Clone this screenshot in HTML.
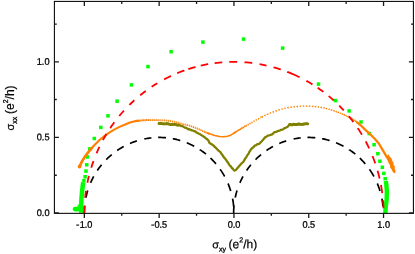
<!DOCTYPE html>
<html><head><meta charset="utf-8"><title>chart</title>
<style>
html,body{margin:0;padding:0;background:#fff;}
body{width:415px;height:254px;position:relative;overflow:hidden;font-family:"Liberation Sans",sans-serif;}
svg text{font-family:"Liberation Sans",sans-serif;fill:#000;stroke:#000;stroke-width:0.2px;}
svg{will-change:transform;}
</style></head><body>
<svg width="415" height="254" viewBox="0 0 415 254" style="position:absolute;left:0;top:0">
<defs><clipPath id="cp"><rect x="54.40" y="1.40" width="359.00" height="212.55"/></clipPath></defs>
<g clip-path="url(#cp)">
<path d="M84.35 213.00 L84.35 213.00 L84.36 211.81 L84.39 210.63 L84.43 209.44 L84.50 208.25 L84.58 207.07 L84.68 205.89 L84.70 205.71 M85.94 197.51 L85.94 197.50 L86.19 196.34 L86.46 195.19 L86.75 194.03 L87.05 192.89 L87.37 191.75 L87.71 190.61 L87.76 190.44 M90.57 182.85 L90.58 182.83 L91.05 181.74 L91.55 180.66 L92.06 179.60 L92.59 178.53 L93.13 177.48 L93.69 176.44 L93.72 176.38 M97.31 170.49 L97.32 170.48 L97.99 169.50 L98.68 168.54 L99.38 167.58 L100.09 166.64 L100.82 165.71 L101.55 164.80 M106.24 159.60 L106.27 159.57 L107.11 158.74 L107.96 157.92 L108.82 157.11 L109.70 156.32 L110.58 155.54 L111.48 154.78 L111.77 154.54 M117.20 150.45 L117.22 150.44 L118.20 149.78 L119.19 149.14 L120.18 148.51 L121.19 147.90 L122.21 147.31 L123.24 146.73 L123.68 146.49 M129.98 143.43 L130.00 143.42 L131.09 142.97 L132.18 142.53 L133.28 142.11 L134.39 141.71 L135.50 141.33 L136.62 140.96 L136.91 140.87 M144.36 138.94 L144.41 138.93 L145.56 138.71 L146.72 138.50 L147.88 138.31 L149.04 138.14 L150.21 137.99 L151.38 137.86 L151.38 137.86 M158.16 137.46 L158.18 137.46 L159.36 137.45 L160.53 137.46 L161.71 137.49 L162.88 137.54 L164.05 137.61 L165.23 137.70 L166.05 137.77 M172.79 138.72 L172.79 138.72 L173.95 138.94 L175.10 139.19 L176.24 139.45 L177.39 139.73 L178.52 140.03 L179.66 140.34 L180.27 140.52 M186.78 142.79 L186.83 142.81 L187.92 143.26 L189.00 143.73 L190.07 144.21 L191.14 144.71 L192.20 145.22 L193.25 145.76 L194.21 146.26 M200.05 149.74 L200.05 149.75 L201.03 150.40 L202.00 151.08 L202.96 151.76 L203.91 152.47 L204.84 153.18 L205.77 153.92 L206.01 154.11 M210.51 158.08 L210.56 158.12 L211.40 158.94 L212.24 159.78 L213.06 160.63 L213.87 161.49 L214.66 162.36 L215.44 163.25 L216.00 163.90 M220.21 169.36 L220.24 169.40 L220.91 170.38 L221.57 171.36 L222.21 172.36 L222.83 173.36 L223.44 174.38 L224.03 175.41 L224.61 176.44 L224.64 176.49 M228.02 183.52 L228.03 183.53 L228.48 184.63 L228.91 185.73 L229.32 186.84 L229.72 187.96 L230.10 189.08 L230.47 190.21 L230.72 191.04 M232.58 198.62 L232.59 198.66 L232.81 199.83 L233.00 201.00 L233.18 202.18 L233.34 203.35 L233.48 204.53 L233.60 205.71 L233.66 206.34" fill="none" stroke="#000" stroke-width="1.70" stroke-linecap="butt"/>
<path d="M233.65 213.00 L233.65 213.00 L233.66 211.81 L233.69 210.63 L233.73 209.44 L233.80 208.25 L233.88 207.07 L233.98 205.89 L234.00 205.71 M235.24 197.51 L235.24 197.50 L235.49 196.34 L235.76 195.19 L236.05 194.03 L236.35 192.89 L236.67 191.75 L237.01 190.61 L237.06 190.44 M239.87 182.85 L239.88 182.83 L240.35 181.74 L240.85 180.66 L241.36 179.60 L241.89 178.53 L242.43 177.48 L242.99 176.44 L243.02 176.38 M246.61 170.49 L246.62 170.48 L247.29 169.50 L247.98 168.54 L248.68 167.58 L249.39 166.64 L250.12 165.71 L250.85 164.80 M255.54 159.60 L255.57 159.57 L256.41 158.74 L257.26 157.92 L258.12 157.11 L259.00 156.32 L259.88 155.54 L260.78 154.78 L261.07 154.54 M266.50 150.45 L266.52 150.44 L267.50 149.78 L268.49 149.14 L269.48 148.51 L270.49 147.90 L271.51 147.31 L272.54 146.73 L272.98 146.49 M279.28 143.43 L279.30 143.42 L280.39 142.97 L281.48 142.53 L282.58 142.11 L283.69 141.71 L284.80 141.33 L285.92 140.96 L286.21 140.87 M293.66 138.94 L293.71 138.93 L294.86 138.71 L296.02 138.50 L297.18 138.31 L298.34 138.14 L299.51 137.99 L300.68 137.86 L300.68 137.86 M307.46 137.46 L307.48 137.46 L308.66 137.45 L309.83 137.46 L311.01 137.49 L312.18 137.54 L313.35 137.61 L314.53 137.70 L315.35 137.77 M322.09 138.72 L322.09 138.72 L323.25 138.94 L324.40 139.19 L325.54 139.45 L326.69 139.73 L327.82 140.03 L328.96 140.34 L329.57 140.52 M336.08 142.79 L336.13 142.81 L337.22 143.26 L338.30 143.73 L339.37 144.21 L340.44 144.71 L341.50 145.22 L342.55 145.76 L343.51 146.26 M349.35 149.74 L349.35 149.75 L350.33 150.40 L351.30 151.08 L352.26 151.76 L353.21 152.47 L354.14 153.18 L355.07 153.92 L355.31 154.11 M359.81 158.08 L359.86 158.12 L360.70 158.94 L361.54 159.78 L362.36 160.63 L363.17 161.49 L363.96 162.36 L364.74 163.25 L365.30 163.90 M369.51 169.36 L369.54 169.40 L370.21 170.38 L370.87 171.36 L371.51 172.36 L372.13 173.36 L372.74 174.38 L373.33 175.41 L373.91 176.44 L373.94 176.49 M377.32 183.52 L377.33 183.53 L377.78 184.63 L378.21 185.73 L378.62 186.84 L379.02 187.96 L379.40 189.08 L379.77 190.21 L380.02 191.04 M381.88 198.62 L381.89 198.66 L382.11 199.83 L382.30 201.00 L382.48 202.18 L382.64 203.35 L382.78 204.53 L382.90 205.71 L382.96 206.34" fill="none" stroke="#000" stroke-width="1.70" stroke-linecap="butt"/>
<rect x="82.15" y="178.85" width="3.50" height="3.50" fill="#00ff00"/>
<rect x="83.35" y="174.95" width="3.50" height="3.50" fill="#00ff00"/>
<rect x="84.25" y="169.35" width="3.50" height="3.50" fill="#00ff00"/>
<rect x="84.95" y="163.05" width="3.50" height="3.50" fill="#00ff00"/>
<rect x="85.55" y="155.15" width="3.50" height="3.50" fill="#00ff00"/>
<rect x="88.05" y="147.15" width="3.50" height="3.50" fill="#00ff00"/>
<rect x="92.55" y="136.75" width="3.50" height="3.50" fill="#00ff00"/>
<rect x="99.05" y="125.65" width="3.50" height="3.50" fill="#00ff00"/>
<rect x="106.25" y="114.05" width="3.50" height="3.50" fill="#00ff00"/>
<rect x="115.35" y="99.45" width="3.50" height="3.50" fill="#00ff00"/>
<rect x="129.65" y="83.15" width="3.50" height="3.50" fill="#00ff00"/>
<rect x="146.25" y="64.85" width="3.50" height="3.50" fill="#00ff00"/>
<rect x="169.35" y="49.95" width="3.50" height="3.50" fill="#00ff00"/>
<rect x="201.15" y="40.35" width="3.50" height="3.50" fill="#00ff00"/>
<rect x="241.75" y="37.35" width="3.50" height="3.50" fill="#00ff00"/>
<rect x="280.85" y="46.35" width="3.50" height="3.50" fill="#00ff00"/>
<rect x="316.75" y="82.35" width="3.50" height="3.50" fill="#00ff00"/>
<rect x="333.85" y="98.85" width="3.50" height="3.50" fill="#00ff00"/>
<rect x="347.35" y="109.15" width="3.50" height="3.50" fill="#00ff00"/>
<rect x="359.25" y="120.25" width="3.50" height="3.50" fill="#00ff00"/>
<rect x="367.45" y="131.85" width="3.50" height="3.50" fill="#00ff00"/>
<rect x="372.35" y="142.95" width="3.50" height="3.50" fill="#00ff00"/>
<rect x="376.05" y="151.95" width="3.50" height="3.50" fill="#00ff00"/>
<rect x="378.15" y="159.45" width="3.50" height="3.50" fill="#00ff00"/>
<rect x="380.55" y="165.55" width="3.50" height="3.50" fill="#00ff00"/>
<rect x="382.05" y="171.65" width="3.50" height="3.50" fill="#00ff00"/>
<rect x="383.45" y="176.95" width="3.50" height="3.50" fill="#00ff00"/>
<path d="M83.3 182.3 L82.95 184 L82.05 191.7 L81.6 197 L81.3 201 L81.1 205.5 L81.2 209" fill="none" stroke="#00ff00" stroke-width="4.5" stroke-linecap="butt" stroke-linejoin="round"/>
<path d="M75.0 209.05 L81 209.05" fill="none" stroke="#00ff00" stroke-width="4.7" stroke-linecap="round"/>
<rect x="79" y="206.7" width="4.65" height="6.1" fill="#00ff00"/>
<path d="M76.8 206.8 L79.4 203.3 L79.4 206.8 z" fill="#00ff00"/>
<path d="M385.8 181 L386.3 184 L386.85 191.7 L386.65 199.6 L385.7 207.5 L385.3 213.4" fill="none" stroke="#00ff00" stroke-width="4.4" stroke-linejoin="round"/>
<path d="M158.00 123.00 L159.30 123.57 L160.60 123.41 L161.89 123.69 L163.19 123.98 L164.48 123.79 L165.78 123.89 L167.07 123.72 L168.36 123.99 L169.66 124.29 L170.95 124.50 L172.25 124.66 L173.55 124.45 L174.85 124.31 L176.14 124.60 L177.43 125.17 L178.73 124.81 L179.99 125.22 L181.20 126.04 L182.40 125.89 L183.58 126.85 L184.75 127.66 L185.92 127.73 L187.10 128.49 L188.30 129.24 L189.50 129.21 L190.71 129.93 L191.97 130.44 L193.22 130.73 L194.40 131.09 L195.50 131.60 L196.61 132.49 L197.71 133.09 L198.88 133.74 L200.06 134.20 L201.23 135.08 L202.35 135.68 L203.36 136.19 L204.36 137.19 L205.36 137.81 L206.38 138.75 L207.39 139.49 L208.40 140.52 L208.89 141.53 L209.37 142.79 L210.45 143.67 L211.57 144.12 L212.69 145.12 L213.64 145.49 L214.57 146.79 L215.51 147.47 L216.44 148.39 L217.36 149.45 L218.28 150.29 L219.19 151.13 L220.08 151.80 L220.91 152.86 L221.75 154.29 L222.56 155.17 L223.31 156.35 L224.07 157.59 L224.82 158.46 L225.58 159.08 L226.35 160.30 L227.12 161.55 L227.89 162.34 L228.67 163.90 L229.44 164.93 L230.23 165.90 L231.02 166.66 L231.82 167.95 L232.62 168.47 L233.43 169.61 L234.27 170.64 L235.43 170.25 L236.49 169.36 L237.34 168.13 L238.20 167.30 L239.05 166.31 L239.91 165.31 L240.77 164.25 L241.64 163.45 L242.50 162.50 L243.36 161.76 L244.08 160.69 L244.74 159.38 L245.41 158.22 L246.07 157.33 L246.75 156.29 L247.45 155.05 L248.16 154.05 L248.87 153.06 L249.56 151.33 L250.25 150.81 L250.94 149.29 L251.72 148.41 L252.71 147.79 L253.70 146.88 L254.68 145.64 L255.81 145.37 L256.98 144.38 L258.15 144.01 L259.31 143.76 L260.30 142.68 L261.15 141.82 L262.00 140.92 L262.85 140.01 L263.70 138.98 L264.72 137.64 L265.73 137.12 L266.76 136.35 L267.96 135.57 L269.16 135.42 L270.37 134.98 L271.57 134.64 L272.66 134.01 L273.75 132.73 L274.84 132.10 L276.07 131.97 L277.29 131.18 L278.52 130.82 L279.75 130.63 L280.94 129.82 L282.13 129.72 L283.32 129.25 L284.51 128.15 L285.61 127.83 L286.68 127.28 L287.76 126.66 L288.73 125.31 L289.69 124.37 L290.95 124.76 L292.25 124.79 L293.55 124.29 L294.85 124.45 L296.15 124.54 L297.45 124.52 L298.74 123.94 L300.04 124.23 L301.34 124.38 L302.64 124.26 L303.93 124.04 L305.22 123.83 L306.48 123.69 L307.75 123.85" fill="none" stroke="#808000" stroke-width="2.3" stroke-linejoin="round" stroke-linecap="butt"/>
<path d="M158.00 123.00 L159.30 123.57 L160.60 123.41 L161.89 123.69 L163.19 123.98 L164.48 123.79 L165.78 123.89 L167.07 123.72 L168.36 123.99 L169.66 124.29 L170.95 124.50 L172.25 124.66 L173.55 124.45 L174.85 124.31 L176.14 124.60 L177.43 125.17 L178.73 124.81 L179.99 125.22" fill="none" stroke="#808000" stroke-width="2.8" stroke-linejoin="round" stroke-linecap="butt"/>
<path d="M289.69 124.37 L290.95 124.76 L292.25 124.79 L293.55 124.29 L294.85 124.45 L296.15 124.54 L297.45 124.52 L298.74 123.94 L300.04 124.23 L301.34 124.38 L302.64 124.26 L303.93 124.04 L305.22 123.83 L306.48 123.69 L307.75 123.85" fill="none" stroke="#808000" stroke-width="2.9" stroke-linejoin="round" stroke-linecap="round"/>
<path d="M79.60 166.50 L81.80 161.70 L84.80 156.80 L87.70 152.90 L90.70 149.40 L94.50 145.00 L99.80 139.70 L104.70 135.80 L109.60 132.30 L114.60 129.40 L119.50 126.90 L124.60 124.70 L129.90 122.60 L134.80 121.30 L138.00 120.65" fill="none" stroke="#ff8000" stroke-width="2.1" stroke-linecap="round" stroke-linejoin="round"/>
<circle cx="79.6" cy="166.5" r="1.9" fill="#ff8000"/>
<path d="M79.60 166.50 L81.80 161.70 L84.80 156.80 L87.70 152.90 L90.70 149.40 L92.00 147.89" fill="none" stroke="#ff8000" stroke-width="2.5" stroke-linecap="round" stroke-linejoin="round"/>
<path d="M208.00 133.04 L209.70 133.80 L214.60 135.50 L219.60 136.50 L223.50 136.80 L227.40 136.30 L229.90 135.60 L234.90 132.70 L235.00 132.64" fill="none" stroke="#ff8000" stroke-width="1.55" stroke-linejoin="round"/>
<path d="M138.00 120.65 L139.70 120.30 L144.60 119.90 L149.60 119.70 L150.00 119.70" fill="none" stroke="#ff8000" stroke-width="0.8" stroke-linejoin="round"/>
<path d="M150.00 119.70 L154.70 119.70 L159.70 119.90 L164.90 120.00 L169.80 120.60 L174.70 121.60 L179.60 122.80 L184.60 124.10 L189.50 125.40 L194.60 127.10 L199.90 129.30 L204.80 131.60 L205.00 131.69" fill="none" stroke="#ff8000" stroke-width="0.35" stroke-linejoin="round"/>
<path d="M205.00 131.69 L209.00 133.49" fill="none" stroke="#ff8000" stroke-width="0.8" stroke-linejoin="round"/>
<path d="M138.00 119.40 l0.80 2.50 l-1.60 0 z M139.27 119.14 l0.80 2.50 l-1.60 0 z M140.63 118.97 l0.80 2.50 l-1.60 0 z M142.05 118.86 l0.80 2.50 l-1.60 0 z M143.55 118.74 l0.80 2.50 l-1.60 0 z M145.12 118.63 l0.80 2.50 l-1.60 0 z M146.78 118.56 l0.80 2.50 l-1.60 0 z M148.52 118.49 l0.80 2.50 l-1.60 0 z M150.34 118.45 l0.80 2.50 l-1.60 0 z M152.25 118.45 l0.80 2.50 l-1.60 0 z M154.18 118.45 l0.80 2.50 l-1.60 0 z M156.13 118.51 l0.80 2.50 l-1.60 0 z M158.11 118.59 l0.80 2.50 l-1.60 0 z M160.12 118.66 l0.80 2.50 l-1.60 0 z M162.15 118.70 l0.80 2.50 l-1.60 0 z M164.21 118.74 l0.80 2.50 l-1.60 0 z M166.29 118.92 l0.80 2.50 l-1.60 0 z M168.38 119.18 l0.80 2.50 l-1.60 0 z M170.47 119.49 l0.80 2.50 l-1.60 0 z M172.56 119.91 l0.80 2.50 l-1.60 0 z M174.65 120.34 l0.80 2.50 l-1.60 0 z M176.74 120.85 l0.80 2.50 l-1.60 0 z M178.84 121.36 l0.80 2.50 l-1.60 0 z M180.94 121.90 l0.80 2.50 l-1.60 0 z M183.05 122.45 l0.80 2.50 l-1.60 0 z M185.17 123.00 l0.80 2.50 l-1.60 0 z M187.29 123.56 l0.80 2.50 l-1.60 0 z M189.39 124.12 l0.80 2.50 l-1.60 0 z M191.42 124.79 l0.80 2.50 l-1.60 0 z M193.43 125.46 l0.80 2.50 l-1.60 0 z M195.39 126.18 l0.80 2.50 l-1.60 0 z M197.29 126.97 l0.80 2.50 l-1.60 0 z M199.17 127.75 l0.80 2.50 l-1.60 0 z M201.01 128.57 l0.80 2.50 l-1.60 0 z M202.76 129.39 l0.80 2.50 l-1.60 0 z M204.42 130.17 l0.80 2.50 l-1.60 0 z M205.99 130.88 l0.80 2.50 l-1.60 0 z M207.47 131.55 l0.80 2.50 l-1.60 0 z M208.87 132.18 l0.80 2.50 l-1.60 0 z" fill="#ff8000"/>
<path d="M234.00 133.22 L234.90 132.70 L239.80 129.80 L244.70 126.80 L247.00 125.53" fill="none" stroke="#ff8000" stroke-width="0.9" stroke-linejoin="round"/>
<path d="M234.00 134.37 l0.90 -2.30 l-1.80 0 z M235.21 133.67 l0.90 -2.30 l-1.80 0 z M236.46 132.93 l0.90 -2.30 l-1.80 0 z M237.75 132.16 l0.90 -2.30 l-1.80 0 z M239.09 131.37 l0.90 -2.30 l-1.80 0 z M240.47 130.54 l0.90 -2.30 l-1.80 0 z M241.90 129.67 l0.90 -2.30 l-1.80 0 z M243.37 128.76 l0.90 -2.30 l-1.80 0 z M244.90 127.84 l0.90 -2.30 l-1.80 0 z M246.53 126.94 l0.90 -2.30 l-1.80 0 z M248.23 126.01 l0.90 -2.30 l-1.80 0 z M250.04 125.01 l0.90 -2.30 l-1.80 0 z M251.99 123.96 l0.90 -2.30 l-1.80 0 z M254.07 122.83 l0.90 -2.30 l-1.80 0 z M256.26 121.57 l0.90 -2.30 l-1.80 0 z M258.57 120.22 l0.90 -2.30 l-1.80 0 z M260.95 118.74 l0.90 -2.30 l-1.80 0 z" fill="#ff8000"/>
<path d="M261.00 116.92 l2.00 -1.10 l0 2.20 z M263.57 115.38 l2.00 -1.10 l0 2.20 z M266.33 114.19 l2.00 -1.10 l0 2.20 z M269.11 113.01 l2.00 -1.10 l0 2.20 z M271.93 111.89 l2.00 -1.10 l0 2.20 z M274.79 110.88 l2.00 -1.10 l0 2.20 z M277.71 109.96 l2.00 -1.10 l0 2.20 z M280.63 109.02 l2.00 -1.10 l0 2.20 z M283.59 108.23 l2.00 -1.10 l0 2.20 z M286.63 107.67 l2.00 -1.10 l0 2.20 z M289.69 107.19 l2.00 -1.10 l0 2.20 z M292.78 106.80 l2.00 -1.10 l0 2.20 z M295.90 106.54 l2.00 -1.10 l0 2.20 z M299.02 106.23 l2.00 -1.10 l0 2.20 z M302.15 106.00 l2.00 -1.10 l0 2.20 z M305.25 106.03 l2.00 -1.10 l0 2.20 z M308.29 106.14 l2.00 -1.10 l0 2.20 z M311.27 106.36 l2.00 -1.10 l0 2.20 z M314.19 106.66 l2.00 -1.10 l0 2.20 z M317.05 107.02 l2.00 -1.10 l0 2.20 z M319.85 107.41 l2.00 -1.10 l0 2.20 z M322.59 107.90 l2.00 -1.10 l0 2.20 z M325.21 108.58 l2.00 -1.10 l0 2.20 z M327.76 109.24 l2.00 -1.10 l0 2.20 z M330.23 109.93 l2.00 -1.10 l0 2.20 z M332.57 110.80 l2.00 -1.10 l0 2.20 z M334.86 111.65 l2.00 -1.10 l0 2.20 z M337.08 112.44 l2.00 -1.10 l0 2.20 z M339.18 113.23 l2.00 -1.10 l0 2.20 z M341.13 114.10 l2.00 -1.10 l0 2.20 z M343.00 114.94 l2.00 -1.10 l0 2.20 z M344.76 115.77 l2.00 -1.10 l0 2.20 z M346.44 116.59 l2.00 -1.10 l0 2.20 z M348.05 117.38 l2.00 -1.10 l0 2.20 z M349.56 118.22 l2.00 -1.10 l0 2.20 z M350.98 119.09 l2.00 -1.10 l0 2.20 z M352.36 119.92 l2.00 -1.10 l0 2.20 z M353.68 120.73 l2.00 -1.10 l0 2.20 z M354.88 121.60 l2.00 -1.10 l0 2.20 z M356.04 122.46 l2.00 -1.10 l0 2.20 z" fill="#ff8000"/>
<path d="M357.00 122.43 L359.80 124.50 L364.90 129.40 L369.80 133.80 L374.70 138.70 L378.80 143.50 L380.80 146.90 L383.80 151.90 L386.70 156.80 L388.40 159.30" fill="none" stroke="#ff8000" stroke-width="2.3" stroke-linecap="round" stroke-linejoin="round"/>
<path d="M386.8 156.5 L387.5 160 L388.7 163.3 L389.9 165.0 L390.2 167.8 L391.8 169.4 L392.5 171.4 L394.2 173.2 L395.3 172.9 L395.5 170.5 L394.6 168.6 L394.9 166.5 L393.5 164.7 L393.5 162.5 L392.1 160.7 L391.5 158.3 L389.8 156.7 L388.5 154.2 z" fill="#ff8000"/>
<path d="M84.35 213.00 L84.35 213.00 L84.37 210.63 L84.42 208.25 L84.52 205.88 L84.52 205.70 M85.11 197.83 L85.12 197.71 L85.37 195.35 L85.67 193.00 L85.98 190.78 M87.37 182.80 L87.39 182.70 L87.88 180.38 L88.40 178.06 L88.91 175.97 M91.23 167.69 L91.25 167.65 L91.97 165.39 L92.73 163.15 L93.47 161.06 M96.51 153.34 L96.52 153.30 L97.47 151.13 L98.45 148.97 L99.39 146.96 M102.91 140.11 L102.92 140.09 L104.07 138.02 L105.25 135.96 L106.40 134.05 M110.22 128.06 L110.23 128.05 L111.57 126.10 L112.93 124.17 L114.32 122.27 M119.33 115.90 L119.37 115.84 L120.90 114.04 L122.45 112.26 L123.86 110.70 M129.40 104.93 L129.44 104.88 L131.14 103.24 L132.86 101.62 L134.34 100.26 M140.19 95.26 L140.26 95.20 L142.10 93.73 L143.97 92.29 L145.73 90.97 M151.62 86.84 L151.65 86.82 L153.62 85.53 L155.62 84.27 L157.28 83.25 M164.15 79.35 L164.19 79.33 L166.28 78.24 L168.38 77.19 L170.50 76.16 L170.95 75.95 M177.26 73.17 L177.28 73.16 L179.47 72.28 L181.66 71.43 L183.87 70.62 L184.35 70.44 M188.43 69.07 L188.44 69.06 L190.68 68.36 L192.94 67.69 L195.20 67.06 L195.52 66.97 M200.76 65.66 L200.79 65.66 L203.09 65.15 L205.39 64.68 L207.70 64.24 L208.21 64.15 M214.63 63.16 L214.67 63.16 L217.00 62.87 L219.34 62.62 L221.68 62.41 L222.29 62.36 M229.28 61.97 L229.31 61.97 L231.66 61.92 L234.01 61.90 L236.36 61.92 L237.18 61.94 M244.47 62.27 L244.58 62.28 L246.92 62.47 L249.26 62.69 L251.60 62.95 L252.23 63.03 M259.55 64.13 L259.62 64.14 L261.93 64.57 L264.24 65.03 L266.51 65.52 M273.59 67.30 L273.61 67.31 L275.87 67.95 L278.12 68.64 L280.36 69.35 L280.76 69.49 M287.16 71.78 L287.23 71.81 L289.42 72.67 L291.59 73.57 L293.75 74.50 L295.90 75.47 L298.03 76.47 L299.62 77.24 M306.43 80.82 L306.50 80.86 L308.55 82.03 L310.57 83.22 L312.46 84.38 M317.65 87.76 L317.72 87.81 L319.65 89.15 L321.57 90.53 L323.42 91.90 M328.68 96.05 L328.74 96.10 L330.55 97.62 L332.33 99.17 L333.82 100.50 M339.18 105.60 L339.21 105.63 L340.87 107.32 L342.50 109.03 L343.81 110.44 M348.86 116.25 L348.90 116.30 L350.39 118.14 L351.85 120.00 L353.29 121.88 L353.43 122.07 M357.71 128.11 L357.73 128.15 L359.04 130.12 L360.31 132.12 L361.56 134.13 L361.89 134.69 M365.69 141.40 L365.71 141.44 L366.81 143.54 L367.87 145.66 L368.90 147.79 L369.22 148.46 M372.49 155.98 L372.51 156.04 L373.38 158.25 L374.22 160.47 L375.02 162.70 L375.25 163.38 M377.57 170.72 L377.57 170.72 L378.21 173.00 L378.82 175.30 L379.39 177.60 L379.61 178.56 M380.96 185.02 L380.96 185.03 L381.38 187.37 L381.76 189.71 L382.11 192.06 L382.24 193.02 M383.02 200.27 L383.02 200.31 L383.20 202.68 L383.34 205.05 L383.45 207.42 L383.48 208.26" fill="none" stroke="#ff0000" stroke-width="1.80" stroke-linecap="butt"/>
</g>
<rect x="54.40" y="1.40" width="359.00" height="211.95" fill="none" stroke="#000" stroke-width="1.05"/>
<path d="M84.35 213.35 v4.6 M84.35 1.40 v4.6 M159.15 213.35 v4.6 M159.15 1.40 v4.6 M233.95 213.35 v4.6 M233.95 1.40 v4.6 M308.75 213.35 v4.6 M308.75 1.40 v4.6 M383.55 213.35 v4.6 M383.55 1.40 v4.6 M121.75 213.35 v2.5 M121.75 1.40 v2.5 M196.55 213.35 v2.5 M196.55 1.40 v2.5 M271.35 213.35 v2.5 M271.35 1.40 v2.5 M346.15 213.35 v2.5 M346.15 1.40 v2.5 M54.40 213.00 h4.5 M413.40 213.00 h-4.5 M54.40 137.45 h4.5 M413.40 137.45 h-4.5 M54.40 61.90 h4.5 M413.40 61.90 h-4.5 M54.40 175.25 h2.4 M413.40 175.25 h-2.4 M54.40 99.50 h2.4 M413.40 99.50 h-2.4 M54.40 24.05 h2.4 M413.40 24.05 h-2.4" stroke="#1a1a1a" stroke-width="1.3" fill="none"/>
<text transform="translate(76.10 227.75) rotate(0.03)" font-size="10.2" style="stroke-width:0.3px">-</text>
<text transform="translate(79.65 227.75) rotate(0.03) scale(0.96 1)" font-size="9.6" style="stroke-width:0.3px">1.0</text>
<text transform="translate(150.90 227.75) rotate(0.03)" font-size="10.2" style="stroke-width:0.3px">-</text>
<text transform="translate(154.45 227.75) rotate(0.03) scale(0.96 1)" font-size="9.6" style="stroke-width:0.3px">0.5</text>
<text transform="translate(234.05 227.75) rotate(0.03) scale(0.96 1)" font-size="9.6" text-anchor="middle" style="stroke-width:0.3px">0.0</text>
<text transform="translate(308.85 227.75) rotate(0.03) scale(0.96 1)" font-size="9.6" text-anchor="middle" style="stroke-width:0.3px">0.5</text>
<text transform="translate(383.65 227.75) rotate(0.03) scale(0.96 1)" font-size="9.6" text-anchor="middle" style="stroke-width:0.3px">1.0</text>
<text transform="translate(49.5 215.90) rotate(0.03) scale(0.96 1)" font-size="9.6" text-anchor="end" style="stroke-width:0.3px">0.0</text>
<text transform="translate(49.5 140.30) rotate(0.03) scale(0.96 1)" font-size="9.6" text-anchor="end" style="stroke-width:0.3px">0.5</text>
<text transform="translate(49.5 64.75) rotate(0.03) scale(0.96 1)" font-size="9.6" text-anchor="end" style="stroke-width:0.3px">1.0</text>
<text transform="translate(211.7 248.3) rotate(0.03)"><tspan x="0.45" font-size="11">σ</tspan><tspan x="7.2" font-size="7" dy="3.3" style="stroke-width:0.3px">xy</tspan><tspan x="16.9" font-size="12" dy="-3.3">(e</tspan><tspan font-size="7" dy="-6" style="stroke-width:0.25px">2</tspan><tspan font-size="12" dy="6">/h)</tspan></text>
<text transform="translate(13.6 130.9) rotate(-90)"><tspan x="0.45" font-size="11">σ</tspan><tspan x="7.2" font-size="7" dy="3.3" style="stroke-width:0.3px">xx</tspan><tspan x="16.9" font-size="12" dy="-3.3">(e</tspan><tspan font-size="7" dy="-6" style="stroke-width:0.25px">2</tspan><tspan font-size="12" dy="6">/h)</tspan></text>
</svg>
</body></html>
